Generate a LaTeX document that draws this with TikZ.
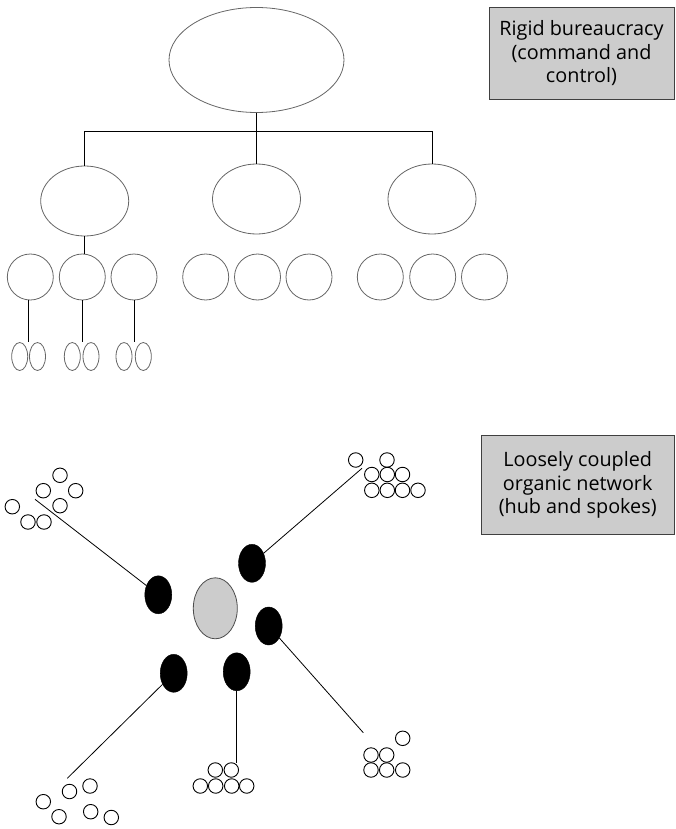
\documentclass[tikz,border=0pt]{standalone}
\usepackage{fontspec}
\setmainfont{Open Sans}
\usetikzlibrary{shapes.geometric}

\begin{document}
\begin{tikzpicture}[x=1pt, y=-1pt,
		oval/.style={draw=black!60, line width=0.8pt, ellipse, inner sep=0pt},
		link/.style={black, line width=0.9pt},
		spoke/.style={black, line width=0.8pt},
		dot/.style={draw, circle, line width=0.9pt, inner sep=0pt, minimum size=14.5pt},
		blob/.style={draw, ellipse, fill=black, inner sep=0pt, minimum width=27pt, minimum height=38pt},
		tag/.style={draw=black!75, fill=black!20, line width=0.8pt, align=center,
			font=\fontsize{19.8}{23.5}\selectfont},
	]
	\useasboundingbox (0,0) rectangle (675,829);

	\node[tag, minimum width=185pt, minimum height=92pt] (t0) at (581.5,53.3)
		{Rigid bureaucracy\\ (command and\\ control)};
	\node[tag, minimum width=193pt, minimum height=99pt] (t1) at (577.7,485.3)
		{Loosely coupled\\ organic network\\ (hub and spokes)};

	\node[oval, minimum width=175pt, minimum height=105pt] (top) at (256.5,60) {};

	\node[oval, minimum width=88pt, minimum height=70pt] (m1) at (84.7,201) {};
	\node[oval, minimum width=88pt, minimum height=70pt] (m2) at (256.5,199) {};
	\node[oval, minimum width=88pt, minimum height=70pt] (m3) at (432,199) {};

	\node[oval, minimum width=46pt, minimum height=46pt] (s1) at (30.3,277) {};
	\node[oval, minimum width=46pt, minimum height=46pt] (s2) at (82.3,277) {};
	\node[oval, minimum width=46pt, minimum height=46pt] (s3) at (134,277) {};
	\node[oval, minimum width=46pt, minimum height=46pt] (s4) at (205.7,277) {};
	\node[oval, minimum width=46pt, minimum height=46pt] (s5) at (257.5,277) {};
	\node[oval, minimum width=46pt, minimum height=46pt] (s6) at (309,277) {};
	\node[oval, minimum width=46pt, minimum height=46pt] (s7) at (380.3,277) {};
	\node[oval, minimum width=46pt, minimum height=46pt] (s8) at (432.7,277) {};
	\node[oval, minimum width=46pt, minimum height=46pt] (s9) at (484.5,277) {};

	\node[oval, minimum width=16pt, minimum height=28pt] (p1a) at (19.7,356.5) {};
	\node[oval, minimum width=16pt, minimum height=28pt] (p1b) at (37.5,356.5) {};
	\node[oval, minimum width=16pt, minimum height=28pt] (p2a) at (72.3,356.5) {};
	\node[oval, minimum width=16pt, minimum height=28pt] (p2b) at (91,356.5) {};
	\node[oval, minimum width=16pt, minimum height=28pt] (p3a) at (124,356.5) {};
	\node[oval, minimum width=16pt, minimum height=28pt] (p3b) at (143.3,356.5) {};

	\coordinate (bus) at (256.5,131.7);
	\draw[link] (top) -- (m2);
	\draw[link] (m1.north) |- (bus) -| (m3.north);
	\draw[link] (m1.south) -- (m1.south |- s2.north);
	\draw[link] (s1.south -| 28.3,0) -- (p1a.north -| 28.3,0);
	\draw[link] (s2.south) -- (s2.south |- p2a.north);
	\draw[link] (s3.south) -- (s3.south |- p3a.north);


	\node[draw=black!70, fill=black!20, line width=0.8pt, ellipse, inner sep=0pt,
		minimum width=44pt, minimum height=61pt] (hub) at (215.3,608.3) {};

	\node[blob] (b1) at (158.3,594.8) {};
	\node[blob] (b2) at (252,563.3) {};
	\node[blob] (b3) at (268.7,626) {};
	\node[blob] (b4) at (173.7,673.3) {};
	\node[blob] (b5) at (236.7,671.8) {};

	\coordinate (e1) at (35,499.3);
	\coordinate (e2) at (362,468.3);
	\coordinate (e3) at (363.3,732.7);
	\coordinate (e4) at (67.3,778.3);
	\coordinate (e5) at (236.7,763.3);

	\draw[spoke] (b1) -- (e1);
	\draw[spoke] (b2) -- (e2);
	\draw[spoke] (b3) -- (e3);
	\draw[spoke] (b4) -- (e4);
	\draw[spoke] (b5) -- (e5);

	% upper left group
	\node[dot] (a1) at (60,475.3) {};
	\node[dot] (a2) at (43.3,490.7) {};
	\node[dot] (a3) at (75.7,490.7) {};
	\node[dot] (a4) at (60,505.7) {};
	\node[dot] (a5) at (12.3,506.7) {};
	\node[dot] (a6) at (28,522) {};
	\node[dot] (a7) at (44,522) {};

	% upper right group
	\node[dot] (c1) at (355.7,460) {};
	\node[dot] (c2) at (387,460) {};
	\node[dot] (c3) at (371.8,474.5) {};
	\node[dot] (c4) at (387.3,474.5) {};
	\node[dot] (c5) at (402.5,474.5) {};
	\node[dot] (c6) at (371.8,490.3) {};
	\node[dot] (c7) at (387.3,490.3) {};
	\node[dot] (c8) at (402.5,490.3) {};
	\node[dot] (c9) at (418,490.3) {};

	% right group
	\node[dot] (d1) at (402.7,738.3) {};
	\node[dot] (d2) at (371,755) {};
	\node[dot] (d3) at (386.7,755) {};
	\node[dot] (d4) at (371,770) {};
	\node[dot] (d5) at (386.7,770) {};
	\node[dot] (d6) at (402.7,770) {};

	% bottom group
	\node[dot] (f1) at (215.3,770) {};
	\node[dot] (f2) at (231.3,770) {};
	\node[dot] (f3) at (200.3,786) {};
	\node[dot] (f4) at (215.7,786) {};
	\node[dot] (f5) at (231.7,786) {};
	\node[dot] (f6) at (246.7,786) {};

	% lower left group
	\node[dot] (g1) at (90,786) {};
	\node[dot] (g2) at (69.5,791.5) {};
	\node[dot] (g3) at (43.3,801.7) {};
	\node[dot] (g4) at (90.7,811.7) {};
	\node[dot] (g5) at (59,816.7) {};
	\node[dot] (g6) at (111.3,817.5) {};
\end{tikzpicture}
\end{document}
